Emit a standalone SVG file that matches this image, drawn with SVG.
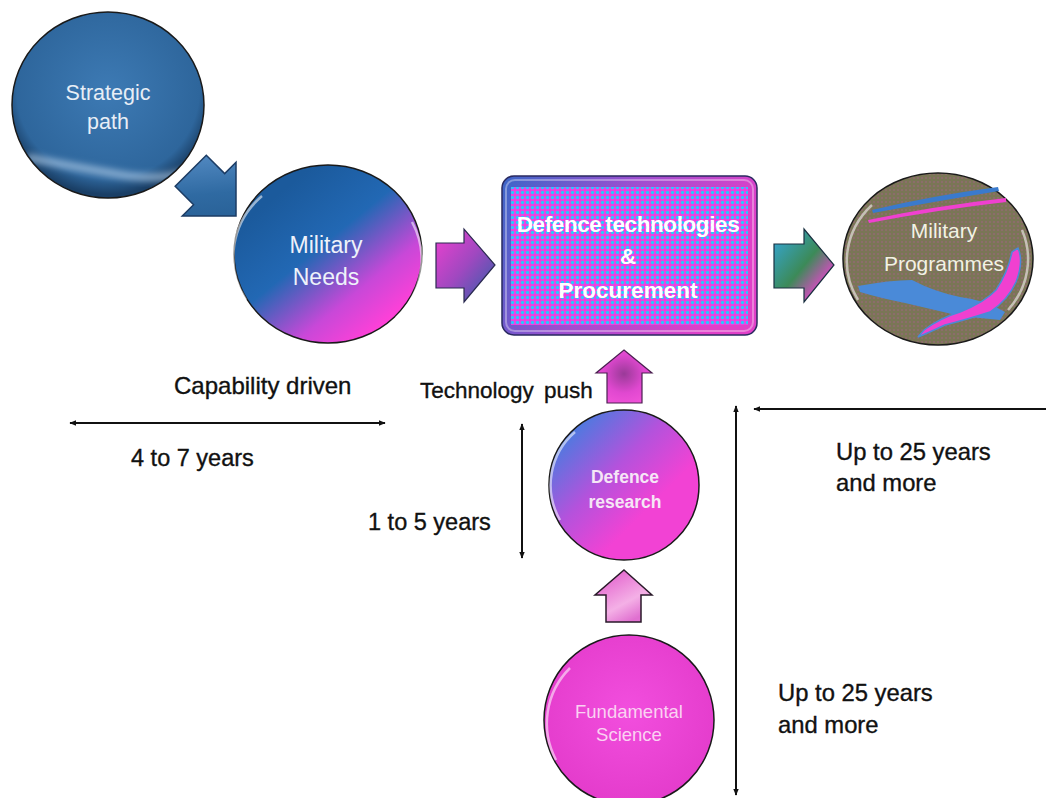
<svg xmlns="http://www.w3.org/2000/svg" width="1046" height="798" viewBox="0 0 1046 798">
<defs>
  <radialGradient id="gStrat" cx="0.5" cy="0.42" r="0.56">
    <stop offset="0" stop-color="#3d7ab4"/>
    <stop offset="0.85" stop-color="#2e669c"/>
    <stop offset="1" stop-color="#1a3f66"/>
  </radialGradient>
  <linearGradient id="gNeeds" x1="0.25" y1="0.15" x2="0.85" y2="0.85">
    <stop offset="0" stop-color="#1b5a9c"/>
    <stop offset="0.4" stop-color="#2268b4"/>
    <stop offset="0.75" stop-color="#c848d8"/>
    <stop offset="1" stop-color="#ff40d8"/>
  </linearGradient>
  <linearGradient id="gRes" x1="0.1" y1="0.1" x2="0.8" y2="0.8">
    <stop offset="0" stop-color="#3d80e0"/>
    <stop offset="0.45" stop-color="#b452dc"/>
    <stop offset="0.8" stop-color="#f242d4"/>
  </linearGradient>
  <radialGradient id="gFund" cx="0.5" cy="0.45" r="0.55">
    <stop offset="0" stop-color="#f24ede"/>
    <stop offset="1" stop-color="#e43ccc"/>
  </radialGradient>
  <linearGradient id="gBorder" x1="0" y1="0" x2="1" y2="0.3">
    <stop offset="0" stop-color="#3b66c8"/>
    <stop offset="0.5" stop-color="#a04ed0"/>
    <stop offset="1" stop-color="#e040c8"/>
  </linearGradient>
  <pattern id="dots" width="5" height="5" patternUnits="userSpaceOnUse">
    <rect width="5" height="5" fill="#f040e0"/>
    <circle cx="2.5" cy="2.5" r="1.7" fill="#28c8ff"/>
  </pattern>
  <pattern id="olive" width="4" height="4" patternUnits="userSpaceOnUse">
    <rect width="4" height="4" fill="#7a7656"/>
    <circle cx="2" cy="2" r="0.7" fill="#c050a8" opacity="0.7"/>
  </pattern>
  <linearGradient id="gArrBlue" x1="0" y1="0" x2="1" y2="1">
    <stop offset="0" stop-color="#5a90c8"/>
    <stop offset="0.5" stop-color="#2f6aa2"/>
    <stop offset="1" stop-color="#245a8e"/>
  </linearGradient>
  <linearGradient id="gArrNeeds" x1="0" y1="0" x2="1" y2="1">
    <stop offset="0" stop-color="#f040d0"/>
    <stop offset="0.5" stop-color="#a048c0"/>
    <stop offset="1" stop-color="#2a60a8"/>
  </linearGradient>
  <linearGradient id="gArrProg" x1="0" y1="0" x2="1" y2="1">
    <stop offset="0" stop-color="#34a8e0"/>
    <stop offset="0.5" stop-color="#3c8a58"/>
    <stop offset="0.8" stop-color="#e048c8"/>
  </linearGradient>
  <radialGradient id="gArrPush" cx="0.5" cy="0.45" r="0.6">
    <stop offset="0" stop-color="#9a3a98"/>
    <stop offset="0.6" stop-color="#e048d0"/>
    <stop offset="1" stop-color="#f052d8"/>
  </radialGradient>
  <linearGradient id="gArrSci" x1="0" y1="0" x2="0.6" y2="1">
    <stop offset="0" stop-color="#e050c8"/>
    <stop offset="0.7" stop-color="#f4b0e6"/>
    <stop offset="1" stop-color="#e070d0"/>
  </linearGradient>
  <filter id="soft" x="-20%" y="-50%" width="140%" height="200%">
    <feGaussianBlur stdDeviation="3"/>
  </filter>
  <clipPath id="clipStrat">
    <ellipse cx="108" cy="105" rx="95" ry="92"/>
  </clipPath>
  <marker id="ah" viewBox="0 0 10 10" refX="9" refY="5" markerWidth="7" markerHeight="7" orient="auto-start-reverse" markerUnits="userSpaceOnUse">
    <path d="M0,1 L10,5 L0,9 z" fill="#111"/>
  </marker>
  <style>
    .lbl { font-family: "Liberation Sans", Arial, sans-serif; fill: #111; stroke: #111; stroke-width: 0.35; }
    .wt { font-family: "Liberation Sans", Arial, sans-serif; text-anchor: middle; }
    .edge { stroke: #1a1a1a; stroke-width: 1.5; }
    .dim { stroke: #111; stroke-width: 2; fill: none; }
    .rim { fill: none; stroke: #ffffff; stroke-opacity: 0.55; stroke-width: 2.5; }
  </style>
</defs>
<rect width="1046" height="798" fill="#ffffff"/>

<g id="strategic-path">
  <ellipse cx="108" cy="105" rx="96" ry="93" fill="url(#gStrat)" class="edge"/>
  <g clip-path="url(#clipStrat)">
    <path d="M30,158 Q90,170 130,176 Q165,180 185,172" fill="none" stroke="#c4dcf4" stroke-opacity="0.55" stroke-width="8" stroke-linecap="round" filter="url(#soft)"/>
  </g>
  <text class="wt" x="108" y="100" font-size="21.5" fill="#e8eef6">Strategic</text>
  <text class="wt" x="108" y="129" font-size="21.5" fill="#e8eef6">path</text>
</g>

<g id="military-needs">
  <ellipse cx="328" cy="254" rx="94" ry="89" fill="url(#gNeeds)" class="edge"/>
  <path d="M246,300 A86,82 0 0 1 262,196" class="rim" stroke-opacity="0.4"/>
  <path d="M412,222 A86,82 0 0 1 396,318" class="rim" stroke-opacity="0.5"/>
  <text class="wt" x="326" y="253" font-size="23" fill="#eef2fa">Military</text>
  <text class="wt" x="326" y="285" font-size="23" fill="#eef2fa">Needs</text>
</g>

<g id="defence-technologies">
  <rect x="502" y="176" width="255" height="159" rx="12" fill="url(#gBorder)" stroke="#2a2a60" stroke-width="1.5"/>
  <rect x="506" y="180" width="247" height="151" rx="9" fill="none" stroke="#ffffff" stroke-opacity="0.35" stroke-width="2"/>
  <rect x="511" y="187" width="237" height="138" fill="url(#dots)"/>
  <text class="wt" x="628" y="232" font-size="22.5" font-weight="bold" fill="#ffffff" word-spacing="-2" letter-spacing="-0.4">Defence technologies</text>
  <text class="wt" x="628" y="264" font-size="22.5" font-weight="bold" fill="#ffffff">&amp;</text>
  <text class="wt" x="628" y="298" font-size="22.5" font-weight="bold" fill="#ffffff">Procurement</text>
</g>

<g id="military-programmes">
  <ellipse cx="938" cy="259" rx="95" ry="86" fill="url(#olive)" class="edge"/>
  <path d="M872,210 Q930,196 998,187 L999,191 Q932,202 873,213 z" fill="#3a7acc"/>
  <path d="M868,220 Q935,206 1006,198 L1006,202 Q936,210 869,223 z" fill="#f040d0"/>
  <path d="M858,286 Q890,280 912,280 Q935,292 960,297 Q985,300 1005,312 L1000,320 Q980,318 960,316 Q935,310 905,303 Q880,298 860,292 z" fill="#4a8ad8"/>
  <path d="M1018,248 Q1024,262 1016,282 Q1008,300 990,312 Q965,320 945,325 Q930,332 918,337 L924,330 Q940,318 960,312 Q985,302 996,290 Q1008,272 1012,252 z" fill="#f040d0" stroke="#4a8ad8" stroke-width="1.5"/>
  <path d="M858,300 A88,80 0 0 1 872,205" class="rim" stroke="#e8f4c0" stroke-opacity="0.6"/>
  <path d="M1022,230 A88,80 0 0 1 1008,310" class="rim" stroke="#e8f4c0" stroke-opacity="0.6"/>
  <text class="wt" x="944" y="238" font-size="21" fill="#f2f2e4">Military</text>
  <text class="wt" x="944" y="271" font-size="21" fill="#f2f2e4">Programmes</text>
</g>

<g id="defence-research">
  <circle cx="624" cy="485" r="75" fill="url(#gRes)" class="edge"/>
  <path d="M560,520 A70,70 0 0 1 575,432" class="rim" stroke-opacity="0.5"/>
  <text class="wt" x="625" y="483" font-size="17.5" font-weight="bold" fill="#f6e6f6">Defence</text>
  <text class="wt" x="625" y="508" font-size="17.5" font-weight="bold" fill="#f6e6f6">research</text>
</g>

<g id="fundamental-science">
  <circle cx="629" cy="720" r="85" fill="url(#gFund)" class="edge"/>
  <path d="M556,760 A78,78 0 0 1 570,668" class="rim" stroke-opacity="0.45"/>
  <text class="wt" x="629" y="718" font-size="18.5" fill="#fad2f2">Fundamental</text>
  <text class="wt" x="629" y="741" font-size="18.5" fill="#fad2f2">Science</text>
</g>

<g id="connectors">
  <polygon points="0,0 -38,-38 -38,-22 -64,-22 -64,22 -38,22 -38,38" transform="translate(236,216) rotate(45)" fill="url(#gArrBlue)" stroke="#1c3c64" stroke-width="1.5"/>
  <polygon points="436,243 464,243 464,229 495,265 464,302 464,288 436,288" fill="url(#gArrNeeds)" stroke="#2a2a50" stroke-width="1.2"/>
  <polygon points="774,244 804,244 804,229 834,265 804,302 804,288 774,288" fill="url(#gArrProg)" stroke="#1a3040" stroke-width="1.2"/>
  <polygon points="624,350 652,373 642,373 642,403 607,403 607,373 596,373" fill="url(#gArrPush)" stroke="#4a2050" stroke-width="1.2"/>
  <polygon points="624,570 652,595 641,595 641,622 606,622 606,595 595,595" fill="url(#gArrSci)" stroke="#2a1a2a" stroke-width="1.5"/>
  <line class="dim" x1="70" y1="423" x2="385" y2="423" marker-start="url(#ah)" marker-end="url(#ah)"/>
  <line class="dim" x1="522" y1="424" x2="522" y2="558" marker-start="url(#ah)" marker-end="url(#ah)"/>
  <line class="dim" x1="736" y1="795" x2="736" y2="406" marker-start="url(#ah)" marker-end="url(#ah)"/>
  <line class="dim" x1="1046" y1="409" x2="754" y2="409" marker-end="url(#ah)"/>
</g>

<g id="labels">
  <text class="lbl" x="174" y="394" font-size="24">Capability driven</text>
  <text class="lbl" x="131" y="466" font-size="23.5">4 to 7 years</text>
  <text class="lbl" x="420" y="398" font-size="22.5" word-spacing="4">Technology push</text>
  <text class="lbl" x="368" y="530" font-size="23.5">1 to 5 years</text>
  <text class="lbl" x="836" y="460" font-size="23.8">Up to 25 years</text>
  <text class="lbl" x="836" y="491" font-size="23.8">and more</text>
  <text class="lbl" x="778" y="701" font-size="23.8">Up to 25 years</text>
  <text class="lbl" x="778" y="733" font-size="23.8">and more</text>
</g>
</svg>
